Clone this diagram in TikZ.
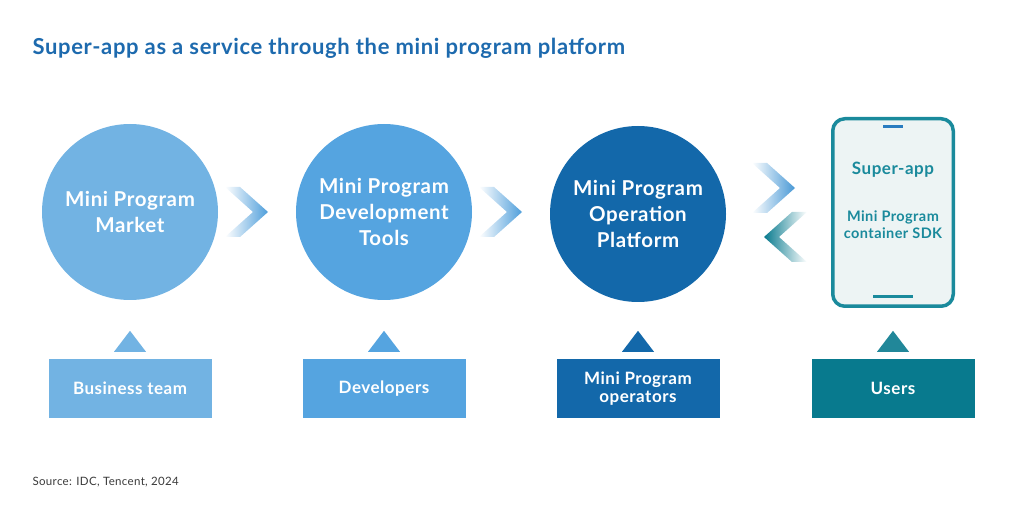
\documentclass[tikz,border=0pt]{standalone}
\usepackage{fontspec}
\setmainfont{Lato}[LetterSpace=3]
\usepackage{xcolor}
\definecolor{marketblue}{HTML}{72B3E3}
\definecolor{toolblue}{HTML}{55A4E0}
\definecolor{opsblue}{HTML}{1368AA}
\definecolor{userteal}{HTML}{087A8E}
\definecolor{phoneteal}{HTML}{1A8A9C}
\definecolor{phonebg}{HTML}{EDF4F4}
\definecolor{barblue}{HTML}{2A7CC0}
\definecolor{titleblue}{HTML}{1D6AAE}
\definecolor{sourcegray}{HTML}{3A3A3A}

\begin{document}
\begin{tikzpicture}[x=1pt, y=-1pt,
	circ/.style={circle, minimum size=176pt, inner sep=0pt, text=white, align=center,
		font=\fontsize{20.5}{26}\selectfont\bfseries},
	group/.style={minimum width=163pt, minimum height=59pt, inner sep=0pt, text=white, align=center,
		font=\fontsize{17}{18}\selectfont\bfseries},
	phonetext/.style={text=phoneteal, align=center}]
		\useasboundingbox (0,0) rectangle (1023,526);
		
		\node[anchor=west, text=titleblue, font=\fontsize{22}{24}\selectfont\bfseries] (title) at (29,48)
			{Super-app as a service through the mini program platform};
		
		\node[circ, fill=marketblue] (market) at (130,212) {Mini Program\\Market};
		\node[circ, fill=toolblue] (tools) at (384,212) {Mini Program\\Development\\Tools};
		\node[circ, fill=opsblue] (ops) at (638,214) {Mini Program\\Operation\\Platform};
		
		\node[draw=phoneteal, line width=3.5pt, fill=phonebg, rounded corners=12pt,
			minimum width=120.5pt, minimum height=187.5pt, inner sep=0pt] (phone) at (893,212.5) {};
		\node[phonetext, font=\fontsize{17}{20}\selectfont\bfseries] (superapp) at (893,170) {Super-app};
		\node[phonetext, font=\fontsize{14.5}{17}\selectfont\bfseries] (sdk) at (893,224.5) {Mini Program\\container SDK};
		
		\node[group, fill=marketblue] (business) at (130,388.5) {Business team};
		\node[group, fill=toolblue] (devs) at (384,388.5) {Developers};
		\node[group, fill=opsblue] (operators) at (638,388.5) {Mini Program\\operators};
		\node[group, fill=userteal] (users) at (893,388.5) {Users};
		
		%========================================================================
		% Phone bars
		\draw[barblue, line width=3pt] (phone.north) ++(-10,10) -- ++(20,0);
		\draw[phoneteal, line width=3pt] (phone.south) ++(-20,-11) -- ++(40,0);
		
		%========================================================================
		% Triangles
		\fill[marketblue] (business.north) ++(-16,-7) -- ++(32,0) -- ++(-16,-21) -- cycle;
		\fill[toolblue] (devs.north) ++(-16,-7) -- ++(32,0) -- ++(-16,-21) -- cycle;
		\fill[opsblue] (operators.north) ++(-16,-7) -- ++(32,0) -- ++(-16,-21) -- cycle;
		\fill[userteal!90!white] (users.north) ++(-16,-7) -- ++(32,0) -- ++(-16,-21) -- cycle;
		
		%========================================================================
		% Chevrons
		\shade[left color=white, right color=toolblue!90!opsblue]
			(225,187) -- (240,187) -- (268,212) -- (240,237) -- (225,237) -- (253,212) -- cycle;
		\shade[left color=white, right color=toolblue!90!opsblue]
			(479,187) -- (494,187) -- (522,212) -- (494,237) -- (479,237) -- (507,212) -- cycle;
		\shade[left color=white, right color=toolblue!80!opsblue]
			(752,163) -- (767,163) -- (795,188) -- (767,213) -- (752,213) -- (780,188) -- cycle;
		\shade[left color=userteal, right color=white]
			(807,212) -- (792,212) -- (764,237) -- (792,262) -- (807,262) -- (779,237) -- cycle;
		
		\node[anchor=west, text=sourcegray, font=\fontsize{11.5}{12}\selectfont] (source) at (29,482)
			{Source: IDC, Tencent, 2024};
	\end{tikzpicture}
\end{document}
